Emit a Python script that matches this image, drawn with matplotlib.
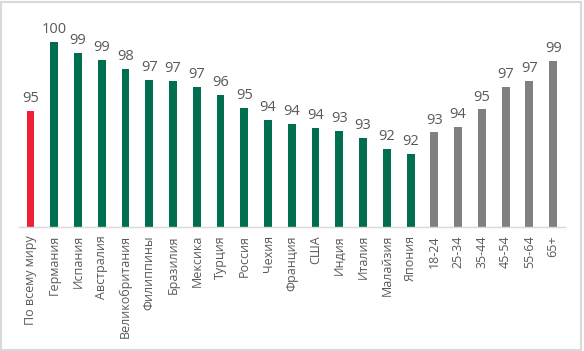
import matplotlib
matplotlib.use("Agg")
import matplotlib.pyplot as plt
from matplotlib.patches import Rectangle

plt.rcParams["font.family"] = ["Open Sans", "DejaVu Sans"]

categories = ["По всему миру", "Германия", "Испания", "Австралия", "Великобритания",
              "Филиппины", "Бразилия", "Мексика", "Турция", "Россия", "Чехия",
              "Франция", "США", "Индия", "Италия", "Малайзия", "Япония",
              "18-24", "25-34", "35-44", "45-54", "55-64", "65+"]
values = [94.9, 100.0, 99.2, 98.7, 98.0, 97.2, 97.1, 96.7, 96.1, 95.1, 94.2,
          93.9, 93.6, 93.4, 92.9, 92.1, 91.7,
          93.3, 93.7, 95.0, 96.7, 97.1, 98.6]
groups = ["total"] + ["country"] * 16 + ["age"] * 6

RED = "#EE2037"
GREEN = "#006E51"
GREY = "#808080"
TEXT = "#595959"
group_colors = {"total": RED, "country": GREEN, "age": GREY}

fig = plt.figure(figsize=(5.84, 3.51), dpi=100)
ax = fig.add_axes([0.0318, 0.354, 0.9357, 0.603])

x = list(range(len(categories)))
colors = [group_colors[g] for g in groups]
bars = ax.bar(x, values, width=0.33, color=colors, zorder=2)

# value labels, rounded like the source
for b, v in zip(bars, values):
    ax.annotate(f"{round(v)}", (b.get_x() + b.get_width() / 2, v),
                xytext=(0, 3.5), textcoords="offset points", ha="center", va="bottom",
                fontsize=10.5, color=TEXT)

ax.set_ylim(86.3, 102)
ax.set_xlim(-0.5, len(categories) - 0.5)
ax.set_xticks(x)
ax.set_xticklabels(categories, rotation=90, fontsize=9, color=TEXT)
ax.tick_params(axis="x", length=0, pad=6)
ax.set_yticks([])
for s in ["top", "right", "left"]:
    ax.spines[s].set_visible(False)
ax.spines["bottom"].set_color("#D9D9D9")
ax.spines["bottom"].set_linewidth(1)

# light frame around the whole picture
fig.patches.append(Rectangle((0.002, 0.004), 0.993, 0.99, transform=fig.transFigure,
                             fill=False, edgecolor="#D9D9D9", linewidth=1.5))

fig.savefig("out.png", dpi=100, facecolor="white")
